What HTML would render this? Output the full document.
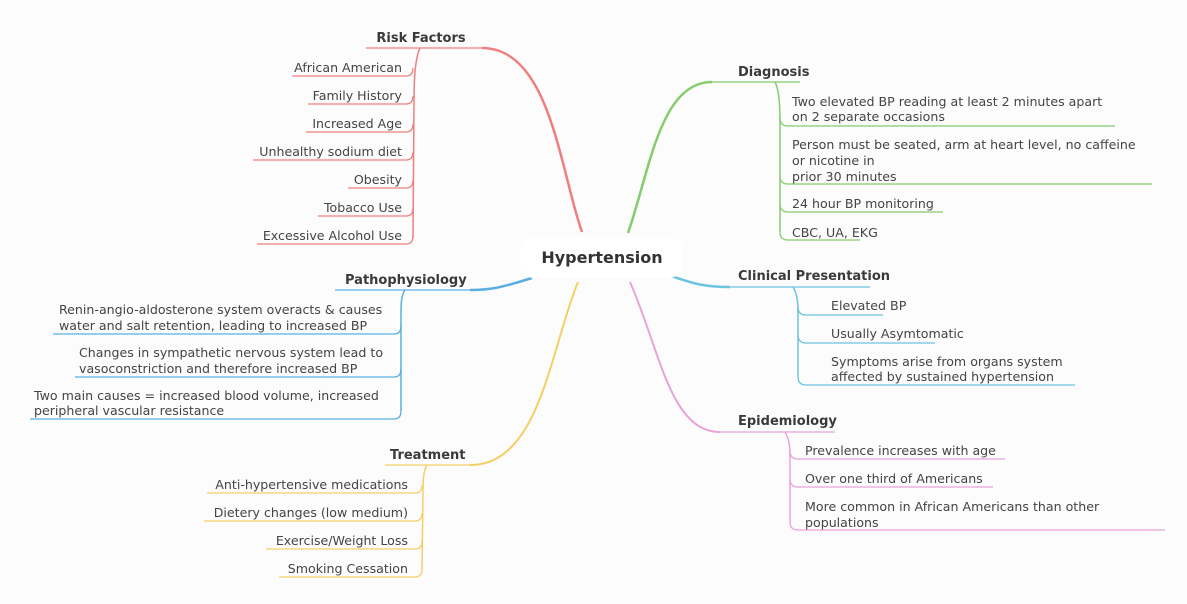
<!DOCTYPE html>
<html><head><meta charset="utf-8"><style>
html,body{margin:0;padding:0;background:#fcfcfc;}
svg{display:block;}
text{font-family:"DejaVu Sans","Liberation Sans",sans-serif;font-size:12.6px;fill:#444;}
.t{font-weight:bold;font-size:13px;fill:#3a3a3a;}
.c{font-weight:bold;font-size:16px;fill:#333;}
</style></head><body>
<svg width="1187" height="604" viewBox="0 0 1187 604" xmlns="http://www.w3.org/2000/svg">
<rect width="1187" height="604" fill="#fcfcfc"/>
<!-- Risk Factors (red) -->
<g fill="none" stroke="#ef7f7f">
<path d="M582,232 C560,170 550,48 482,48" stroke-width="2.5"/>
<path d="M482,48 L366,48" stroke-width="1.3"/>
<path d="M420,48 C415,58 414,80 414,100 L413,238" stroke-width="1.5"/>
<path d="M292,76 L406,76 Q413,76 413,68" stroke-width="1.3"/>
<path d="M308,104 L406,104 Q413,104 413,96" stroke-width="1.3"/>
<path d="M306,132 L406,132 Q413,132 413,124" stroke-width="1.3"/>
<path d="M253,160 L406,160 Q413,160 413,152" stroke-width="1.3"/>
<path d="M348,188 L406,188 Q413,188 413,180" stroke-width="1.3"/>
<path d="M318,216 L406,216 Q413,216 413,208" stroke-width="1.3"/>
<path d="M257,244 L406,244 Q413,244 413,236" stroke-width="1.3"/>
</g>
<text class="t" x="421" y="42" text-anchor="middle">Risk Factors</text>
<g text-anchor="end">
<text x="402" y="72">African American</text>
<text x="402" y="100">Family History</text>
<text x="402" y="128">Increased Age</text>
<text x="402" y="156">Unhealthy sodium diet</text>
<text x="402" y="184">Obesity</text>
<text x="402" y="212">Tobacco Use</text>
<text x="402" y="240">Excessive Alcohol Use</text>
</g>
<!-- Diagnosis (green) -->
<g fill="none" stroke="#86cc6e">
<path d="M628,233 C650,170 660,82 712,82" stroke-width="2.5"/>
<path d="M712,82 L800,82" stroke-width="1.3"/>
<path d="M775,82 C780,92 780,110 780,130 L780,232" stroke-width="1.5"/>
<path d="M780,118 Q780,126 788,126 L1115,126" stroke-width="1.3"/>
<path d="M780,176 Q780,184 788,184 L1152,184" stroke-width="1.3"/>
<path d="M780,204 Q780,212 788,212 L943,212" stroke-width="1.3"/>
<path d="M780,232 Q780,240 788,240 L860,240" stroke-width="1.3"/>
</g>
<text class="t" x="738" y="76">Diagnosis</text>
<text x="792" y="106">Two elevated BP reading at least 2 minutes apart</text>
<text x="792" y="121">on 2 separate occasions</text>
<text x="792" y="149">Person must be seated, arm at heart level, no caffeine</text>
<text x="792" y="165">or nicotine in</text>
<text x="792" y="181">prior 30 minutes</text>
<text x="792" y="208">24 hour BP monitoring</text>
<text x="792" y="237">CBC, UA, EKG</text>
<!-- Clinical Presentation (blue) -->
<g fill="none" stroke="#6cc3df">
<path d="M668,275 C690,282 700,287 730,287" stroke-width="2.5"/>
<path d="M730,287 L870,287" stroke-width="1.3"/>
<path d="M793,287 C798,295 798,305 798,315 L798,377" stroke-width="1.5"/>
<path d="M798,307 Q798,315 806,315 L883,315" stroke-width="1.3"/>
<path d="M798,335 Q798,343 806,343 L935,343" stroke-width="1.3"/>
<path d="M798,377 Q798,385 806,385 L1075,385" stroke-width="1.3"/>
</g>
<text class="t" x="738" y="280">Clinical Presentation</text>
<text x="831" y="310">Elevated BP</text>
<text x="831" y="338">Usually Asymtomatic</text>
<text x="831" y="366">Symptoms arise from organs system</text>
<text x="831" y="381">affected by sustained hypertension</text>
<!-- Epidemiology (pink) -->
<g fill="none" stroke="#e8a3d9">
<path d="M630,282 C660,350 670,432 720,432" stroke-width="2"/>
<path d="M720,432 L835,432" stroke-width="1.3"/>
<path d="M785,432 C790,440 790,450 790,460 L790,522" stroke-width="1.5"/>
<path d="M790,451 Q790,459 798,459 L1005,459" stroke-width="1.3"/>
<path d="M790,479 Q790,487 798,487 L993,487" stroke-width="1.3"/>
<path d="M790,522 Q790,530 798,530 L1165,530" stroke-width="1.3"/>
</g>
<text class="t" x="738" y="425">Epidemiology</text>
<text x="805" y="455">Prevalence increases with age</text>
<text x="805" y="483">Over one third of Americans</text>
<text x="805" y="511">More common in African Americans than other</text>
<text x="805" y="527">populations</text>
<!-- Pathophysiology (blue) -->
<g fill="none" stroke="#5aaee2">
<path d="M532,278 C500,288 490,290 470,290" stroke-width="2.5"/>
<path d="M470,290 L335,290" stroke-width="1.3"/>
<path d="M405,290 C401,296 401,305 401,315 L401,411" stroke-width="1.5"/>
<path d="M53,334 L394,334 Q401,334 401,326" stroke-width="1.3"/>
<path d="M75,377 L394,377 Q401,377 401,369" stroke-width="1.3"/>
<path d="M30,419 L394,419 Q401,419 401,411" stroke-width="1.3"/>
</g>
<text class="t" x="345" y="284">Pathophysiology</text>
<text x="59" y="314">Renin-angio-aldosterone system overacts &amp; causes</text>
<text x="59" y="330">water and salt retention, leading to increased BP</text>
<text x="79" y="357">Changes in sympathetic nervous system lead to</text>
<text x="79" y="373">vasoconstriction and therefore increased BP</text>
<text x="34" y="400">Two main causes = increased blood volume, increased</text>
<text x="34" y="415">peripheral vascular resistance</text>
<!-- Treatment (yellow) -->
<g fill="none" stroke="#f5cf66">
<path d="M578,282 C550,350 540,465 470,465" stroke-width="2"/>
<path d="M470,465 L385,465" stroke-width="1.3"/>
<path d="M427,465 C423,472 423,482 423,492 L422,569" stroke-width="1.5"/>
<path d="M207,493 L415,493 Q422,493 422,485" stroke-width="1.3"/>
<path d="M204,521 L415,521 Q422,521 422,513" stroke-width="1.3"/>
<path d="M266,549 L415,549 Q422,549 422,541" stroke-width="1.3"/>
<path d="M279,577 L415,577 Q422,577 422,569" stroke-width="1.3"/>
</g>
<text class="t" x="390" y="459">Treatment</text>
<g text-anchor="end">
<text x="408" y="489">Anti-hypertensive medications</text>
<text x="408" y="517">Dietery changes (low medium)</text>
<text x="408" y="545">Exercise/Weight Loss</text>
<text x="408" y="573">Smoking Cessation</text>
</g>
<!-- center -->
<rect x="520" y="237" width="163" height="41" rx="14" fill="#ffffff"/>
<text class="c" x="602" y="263" text-anchor="middle">Hypertension</text>
</svg>
</body></html>
